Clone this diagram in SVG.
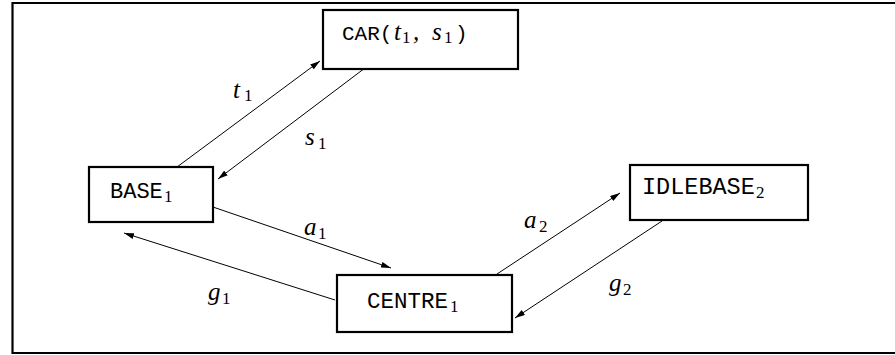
<svg xmlns="http://www.w3.org/2000/svg" width="895" height="355" viewBox="0 0 895 355">
<style>
.box{fill:#fff;stroke:#000;stroke-width:2.2}
.tt{font-family:"Liberation Mono","DejaVu Sans Mono",monospace;font-size:22px;fill:#000}
.mi{font-family:"Liberation Serif","DejaVu Serif",serif;font-style:italic;font-size:25px;fill:#000}
.sub{font-family:"Liberation Serif","DejaVu Serif",serif;font-style:normal;font-size:17px;fill:#000}
.edge{stroke:#000;stroke-width:1;fill:none;marker-end:url(#ah)}
</style>
<defs>
<marker id="ah" viewBox="0 0 10 6" refX="10" refY="3" markerWidth="10" markerHeight="6" markerUnits="userSpaceOnUse" orient="auto">
<path d="M0,0 L10,3 L0,6 Z" fill="#000"/>
</marker>
</defs>
<rect width="895" height="355" fill="#fff"/>
<path d="M900,3 H12.5 V353 H900" fill="none" stroke="#000" stroke-width="2.2"/>
<g id="connectors">
<line class="edge" x1="177" y1="167" x2="320" y2="61"/>
<line class="edge" x1="365" y1="68" x2="218" y2="179"/>
<line class="edge" x1="210" y1="206" x2="391" y2="268"/>
<line class="edge" x1="335" y1="300" x2="124" y2="233"/>
<line class="edge" x1="497" y1="274" x2="620" y2="193"/>
<line class="edge" x1="662" y1="221" x2="515" y2="318"/>
<text class="mi" x="233" y="98">t<tspan class="sub" x="244" y="101">1</tspan></text>
<text class="mi" x="305" y="145">s<tspan class="sub" x="318" y="149">1</tspan></text>
<text class="mi" x="304" y="235">a<tspan class="sub" x="318" y="239">1</tspan></text>
<text class="mi" x="208" y="300">g<tspan class="sub" x="222" y="304">1</tspan></text>
<text class="mi" x="524" y="228">a<tspan class="sub" x="539" y="232">2</tspan></text>
<text class="mi" x="609" y="291">g<tspan class="sub" x="623" y="295">2</tspan></text>
</g>
<g id="car">
<rect class="box" x="323" y="10" width="195" height="59"/>
<text class="tt" x="342" y="40" style="font-size:21px">CAR(<tspan class="mi" x="394" y="40">t</tspan><tspan class="sub" x="402" y="43">1</tspan><tspan class="mi" x="413" y="40">,</tspan><tspan class="mi" x="432" y="40">s</tspan><tspan class="sub" x="444" y="43">1</tspan><tspan x="455" y="40">)</tspan></text>
</g>
<g id="base1">
<rect class="box" x="89" y="167" width="124" height="55"/>
<text class="tt" x="110" y="198">BASE<tspan class="sub" x="164" y="202">1</tspan></text>
</g>
<g id="centre1">
<rect class="box" x="337" y="275" width="175" height="57"/>
<text class="tt" x="367" y="308" style="font-size:22.5px">CENTRE<tspan class="sub" x="450" y="312">1</tspan></text>
</g>
<g id="idlebase2">
<rect class="box" x="630" y="165" width="178" height="55"/>
<text class="tt" x="642" y="194" style="font-size:23.5px">IDLEBASE<tspan class="sub" x="756" y="198">2</tspan></text>
</g>
</svg>
